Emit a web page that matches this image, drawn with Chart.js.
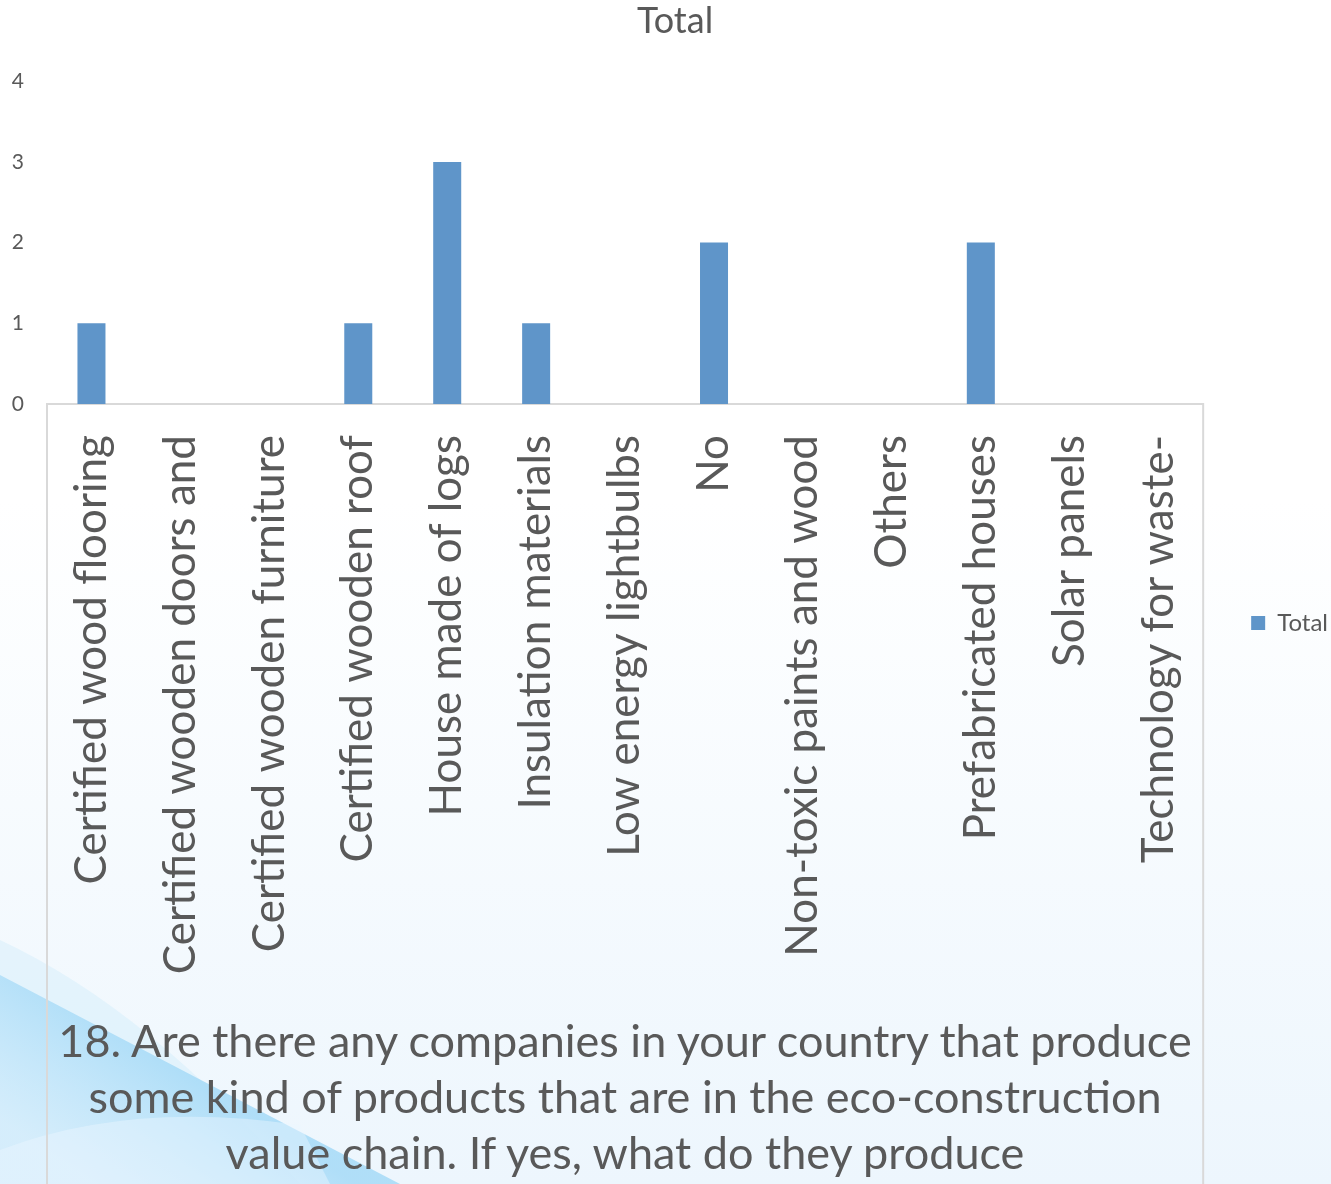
<!DOCTYPE html>
<html>
<head>
<meta charset="utf-8">
<script src="https://cdn.jsdelivr.net/npm/chart.js@4.4.1/dist/chart.umd.min.js"></script>
<style>
  html, body { margin: 0; padding: 0; background: #fff; }
  #wrap { position: relative; width: 1331px; height: 1184px; overflow: hidden; }
  #question {
    position: absolute; left: 47px; width: 1156px; top: 1012px;
    text-align: center; color: #595959; white-space: nowrap;
    font-family: Lato, "Open Sans", sans-serif; font-size: 45px; line-height: 56px;
  }
</style>
</head>
<body>
<div id="wrap">
  <canvas id="chart" width="1331" height="1184"></canvas>
  <div id="question">18. Are there any companies in your country that produce<br>some kind of products that are in the eco-construction<br>value chain. If yes, what do they produce</div>
</div>
<script>
const categories = [
  'Certified wood flooring',
  'Certified wooden doors and',
  'Certified wooden furniture',
  'Certified wooden roof',
  'House made of logs',
  'Insulation materials',
  'Low energy lightbulbs',
  'No',
  'Non-toxic paints and wood',
  'Others',
  'Prefabricated houses',
  'Solar panels',
  'Technology for waste-'
];
const totals = [1, 0, 0, 1, 3, 1, 0, 2, 0, 0, 2, 0, 0];
const yTicks = [0, 1, 2, 3, 4];

const grey = '#595959';
const font = 'Lato, "Open Sans", sans-serif';

// page background: pale gradient with the blue sweep in the lower left corner
const backdrop = {
  id: 'backdrop',
  beforeDraw(chart) {
    const { ctx, width, height } = chart;
    ctx.save();
    const g = ctx.createLinearGradient(0, 500, 0, height);
    g.addColorStop(0, '#ffffff');
    g.addColorStop(1, '#edf6fd');
    ctx.fillStyle = g;
    ctx.fillRect(0, 0, width, height);

    // softer band above the edge on the far left
    ctx.fillStyle = 'rgba(205,235,251,0.4)';
    ctx.beginPath();
    ctx.moveTo(0, 940);
    ctx.quadraticCurveTo(150, 1010, 300, 1184);
    ctx.lineTo(0, height);
    ctx.closePath();
    ctx.fill();

    // main sweep, strongest along its upper edge
    const s = ctx.createLinearGradient(200, 1080, 120, 1200);
    s.addColorStop(0, 'rgba(165,218,247,0.85)');
    s.addColorStop(1, 'rgba(205,234,251,0.6)');
    ctx.fillStyle = s;
    ctx.beginPath();
    ctx.moveTo(0, 975);
    ctx.lineTo(400, height);
    ctx.lineTo(0, height);
    ctx.closePath();
    ctx.fill();

    // pale arc across the bottom of the sweep
    ctx.fillStyle = 'rgba(235,247,254,0.45)';
    ctx.beginPath();
    ctx.moveTo(0, 1150);
    ctx.quadraticCurveTo(130, 1100, 300, 1125);
    ctx.lineTo(330, height);
    ctx.lineTo(0, height);
    ctx.closePath();
    ctx.fill();
    ctx.restore();
  }
};

// light frame around the category label area
const labelFrame = {
  id: 'labelFrame',
  beforeDatasetsDraw(chart) {
    const { ctx, chartArea, height } = chart;
    ctx.save();
    ctx.strokeStyle = '#d9d9d9';
    ctx.lineWidth = 2;
    ctx.beginPath();
    ctx.moveTo(chartArea.left, height + 2);
    ctx.lineTo(chartArea.left, chartArea.bottom);
    ctx.lineTo(chartArea.right, chartArea.bottom);
    ctx.lineTo(chartArea.right, height + 2);
    ctx.stroke();
    ctx.restore();
  }
};

// drop the legend a little below the middle of its column
const legendShift = {
  id: 'legendShift',
  afterLayout(chart) {
    chart.legend.top += 31;
    chart.legend.bottom += 31;
  }
};

new Chart(document.getElementById('chart'), {
  type: 'bar',
  data: {
    labels: categories,
    datasets: [{
      label: 'Total',
      data: totals,
      backgroundColor: '#5f95c9',
      borderWidth: 0,
      categoryPercentage: 1,
      barPercentage: 0.315
    }]
  },
  options: {
    responsive: false,
    animation: false,
    layout: { padding: { left: 12, right: -7, top: 0, bottom: 0 } },
    plugins: {
      title: {
        display: true,
        text: 'Total',
        color: grey,
        font: { family: font, size: 36, weight: 'normal' },
        padding: { top: 0, bottom: 38 }
      },
      legend: {
        position: 'right',
        labels: {
          color: grey,
          font: { family: font, size: 24 },
          boxWidth: 14,
          boxHeight: 14,
          padding: 48
        }
      },
      tooltip: { enabled: false }
    },
    scales: {
      x: {
        grid: { display: false, drawTicks: false },
        border: { display: false },
        afterFit(axis) {
          axis.height = 780;
          axis.paddingLeft = 0;
          axis.paddingRight = 0;
        },
        ticks: {
          autoSkip: false,
          minRotation: 90,
          maxRotation: 90,
          padding: 31,
          color: grey,
          font: { family: font, size: 44 }
        }
      },
      y: {
        min: yTicks[0],
        max: yTicks[yTicks.length - 1],
        afterBuildTicks(axis) { axis.ticks = yTicks.map(v => ({ value: v })); },
        afterFit(axis) { axis.width = 35; },
        grid: { display: false, drawTicks: false },
        border: { display: false },
        ticks: {
          padding: 23,
          color: grey,
          font: { family: font, size: 21 }
        }
      }
    }
  },
  plugins: [backdrop, labelFrame, legendShift]
});
</script>
</body>
</html>
